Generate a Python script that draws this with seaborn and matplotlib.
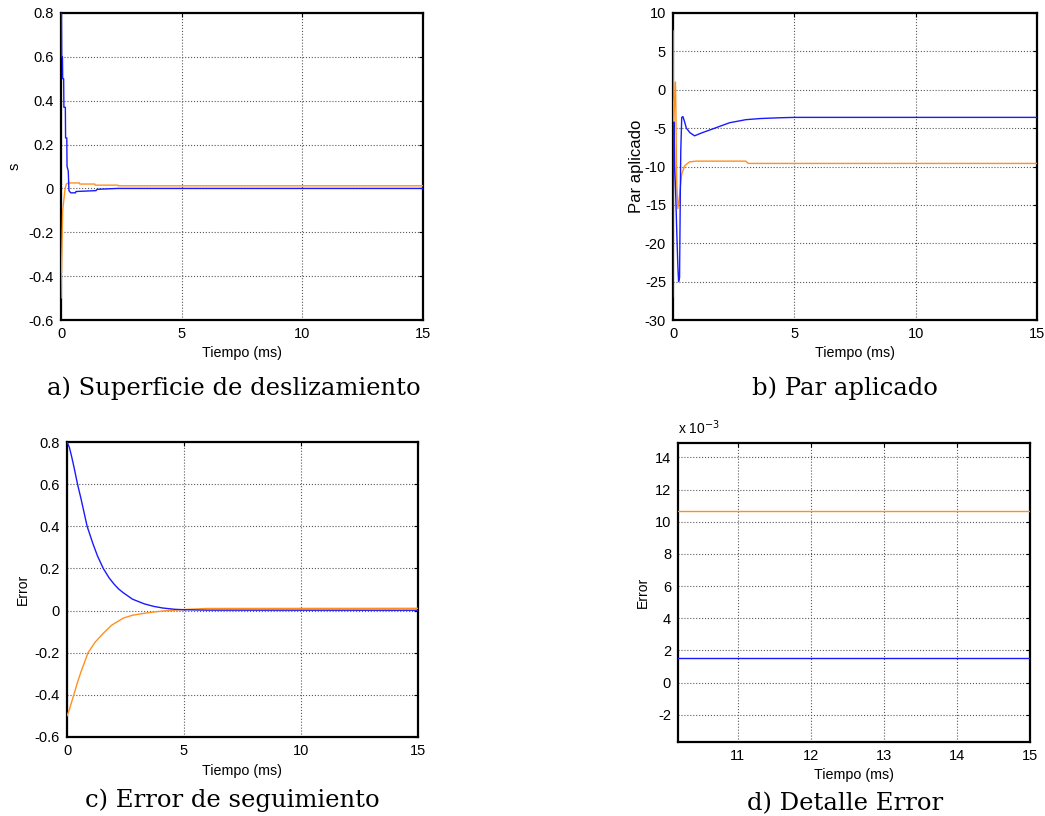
import numpy as np
import pandas as pd
import matplotlib
matplotlib.use("Agg")
import matplotlib.pyplot as plt
import seaborn as sns
from matplotlib.ticker import FuncFormatter

sns.set_theme(style="white")
plt.rcParams['font.family'] = ['Liberation Sans', 'DejaVu Sans']
plt.rcParams['text.color'] = 'black'
plt.rcParams['axes.labelcolor'] = 'black'
plt.rcParams['axes.unicode_minus'] = False

BLUE = '#1a1aff'
ORANGE = '#ff9020'

# ---- a) Superficie de deslizamiento ----
s_t_blue = [0, 0.02, 0.03, 0.06, 0.07, 0.11, 0.12, 0.18, 0.19, 0.24, 0.25, 0.3, 0.33, 0.4, 0.6, 0.62, 1.45, 1.5, 2.35, 15]
s_blue = [0.8, 0.8, 0.6, 0.6, 0.5, 0.5, 0.37, 0.37, 0.23, 0.23, 0.1, 0.08, -0.01, -0.02, -0.02, -0.014, -0.01, -0.004, 0.0, 0.0]
s_t_orange = [0, 0.01, 0.02, 0.05, 0.07, 0.12, 0.17, 0.22, 0.3, 0.76, 0.78, 1.4, 1.42, 2.35, 2.37, 15]
s_orange = [-0.5, -0.38, -0.38, -0.2, -0.1, -0.05, 0.0, 0.02, 0.025, 0.025, 0.02, 0.02, 0.015, 0.015, 0.012, 0.012]

# ---- b) Par aplicado ----
p_t_blue = [0, 0.02, 0.04, 0.07, 0.11, 0.16, 0.2, 0.23, 0.27, 0.3, 0.32, 0.36, 0.41, 0.48, 0.55, 0.7, 0.89, 1.2, 1.64, 2.33, 3.0, 3.6, 4.4, 5.0, 15]
p_blue = [-27, -10, -4.2, -10, -13.5, -19, -23, -25, -24.5, -14, -8, -3.6, -3.5, -4.2, -5.0, -5.6, -6.0, -5.6, -5.1, -4.3, -3.9, -3.75, -3.65, -3.6, -3.6]
p_t_orange = [0, 0.01, 0.07, 0.1, 0.12, 0.15, 0.2, 0.25, 0.3, 0.36, 0.48, 0.68, 0.96, 3.0, 3.1, 15]
p_orange = [7.7, -6.2, -1.0, 1.0, -2.7, -11.8, -15.5, -14.4, -12.7, -11.0, -9.9, -9.4, -9.3, -9.3, -9.6, -9.6]

# ---- c) Error de seguimiento ----
e_t_blue = [0, 0.1, 0.2, 0.3, 0.45, 0.6, 0.86, 1.1, 1.3, 1.55, 1.8, 2.0, 2.2, 2.4, 2.8, 3.3, 3.7, 4.1, 4.6, 5.0, 6.0, 15]
e_blue = [0.8, 0.775, 0.73, 0.68, 0.6, 0.53, 0.4, 0.32, 0.26, 0.2, 0.155, 0.127, 0.103, 0.085, 0.054, 0.032, 0.02, 0.012, 0.006, 0.004, 0.002, 0.0015]
e_t_orange = [0, 0.1, 0.29, 0.45, 0.6, 0.9, 1.2, 1.55, 1.9, 2.4, 2.8, 3.3, 3.7, 4.1, 5.0, 6.0, 15]
e_orange = [-0.5, -0.47, -0.4, -0.34, -0.29, -0.2, -0.15, -0.108, -0.07, -0.036, -0.022, -0.013, -0.007, -0.002, 0.005, 0.01, 0.0107]

# ---- d) Detalle Error ----
d_t = [10.18, 15]
d_blue = [1.55e-3, 1.55e-3]
d_orange = [10.7e-3, 10.7e-3]

W, H = 1045, 816
fig = plt.figure(figsize=(W / 100, H / 100), dpi=100)

def px_axes(l, t, r, b):
    return fig.add_axes([l / W, 1 - b / H, (r - l) / W, (b - t) / H])

axa = px_axes(61, 13, 423, 320)
axb = px_axes(673, 13, 1037, 320)
axc = px_axes(67, 442, 418, 737)
axd = px_axes(678, 443, 1030, 742)

def draw(ax, t, y, color):
    df = pd.DataFrame({'t': t, 'y': y})
    sns.lineplot(data=df, x='t', y='y', ax=ax, color=color, lw=1.0,
                 estimator=None, sort=False, zorder=3)

draw(axa, s_t_orange, s_orange, ORANGE)
draw(axa, s_t_blue, s_blue, BLUE)
draw(axb, p_t_orange, p_orange, ORANGE)
draw(axb, p_t_blue, p_blue, BLUE)
draw(axc, e_t_orange, e_orange, ORANGE)
draw(axc, e_t_blue, e_blue, BLUE)
draw(axd, d_t, d_orange, ORANGE)
draw(axd, d_t, d_blue, BLUE)

def style(ax, fs):
    for sp in ax.spines.values():
        sp.set_visible(True)
        sp.set_color('black')
        sp.set_linewidth(1.6)
        sp.set_zorder(2.5)
    ax.grid(True, color='0.35', linestyle=':', linewidth=0.8)
    ax.tick_params(direction='in', length=3, width=0.8, top=True, right=True,
                   labelsize=fs, colors='black', pad=5)
    ax.set_facecolor('white')

fmt = FuncFormatter(lambda v, p: f"{v:g}")

axa.set_xlim(0, 15); axa.set_ylim(-0.6, 0.8)
axa.set_xticks([0, 5, 10, 15]); axa.set_yticks(np.round(np.arange(-0.6, 0.81, 0.2), 1))
axa.yaxis.set_major_formatter(fmt)
style(axa, 10.5)
axa.set_xlabel('Tiempo (ms)', fontsize=10.3, labelpad=4)
axa.set_ylabel('s', fontsize=10.5, labelpad=5.5)

axb.set_xlim(0, 15); axb.set_ylim(-30, 10)
axb.set_xticks([0, 5, 10, 15]); axb.set_yticks(np.arange(-30, 11, 5))
axb.yaxis.set_major_formatter(fmt)
style(axb, 10.5)
axb.set_xlabel('Tiempo (ms)', fontsize=10.3, labelpad=4)
axb.set_ylabel('Par aplicado', fontsize=12, labelpad=0.5)

axc.set_xlim(0, 15); axc.set_ylim(-0.6, 0.8)
axc.set_xticks([0, 5, 10, 15]); axc.set_yticks(np.round(np.arange(-0.6, 0.81, 0.2), 1))
axc.yaxis.set_major_formatter(fmt)
style(axc, 10.5)
axc.set_xlabel('Tiempo (ms)', fontsize=10.3, labelpad=4)
axc.set_ylabel('Error', fontsize=10, labelpad=3.5)

axd.set_xlim(10.18, 15); axd.set_ylim(-3.7e-3, 14.9e-3)
axd.set_xticks([11, 12, 13, 14, 15])
axd.set_yticks(np.arange(-2, 15, 2) * 1e-3)
axd.yaxis.set_major_formatter(FuncFormatter(lambda v, p: f"{v * 1e3:.0f}"))
style(axd, 10.5)
axd.set_xlabel('Tiempo (ms)', fontsize=10.3, labelpad=4)
axd.set_ylabel('Error', fontsize=10, labelpad=3.5)
axd.text(0.0, 1.02, r'x 10$^{-3}$', transform=axd.transAxes, fontsize=10,
         ha='left', va='bottom')

cap = dict(fontsize=17.5, family=['DejaVu Serif'], ha='center', va='baseline', color='black')
fig.text(234 / W, 1 - 395 / H, 'a) Superficie de deslizamiento', **cap)
fig.text(845 / W, 1 - 395 / H, 'b) Par aplicado', **cap)
fig.text(232 / W, 1 - 807 / H, 'c) Error de seguimiento', **cap)
fig.text(845 / W, 1 - 810 / H, 'd) Detalle Error', **cap)

fig.savefig('out.png', dpi=100, facecolor='white')
